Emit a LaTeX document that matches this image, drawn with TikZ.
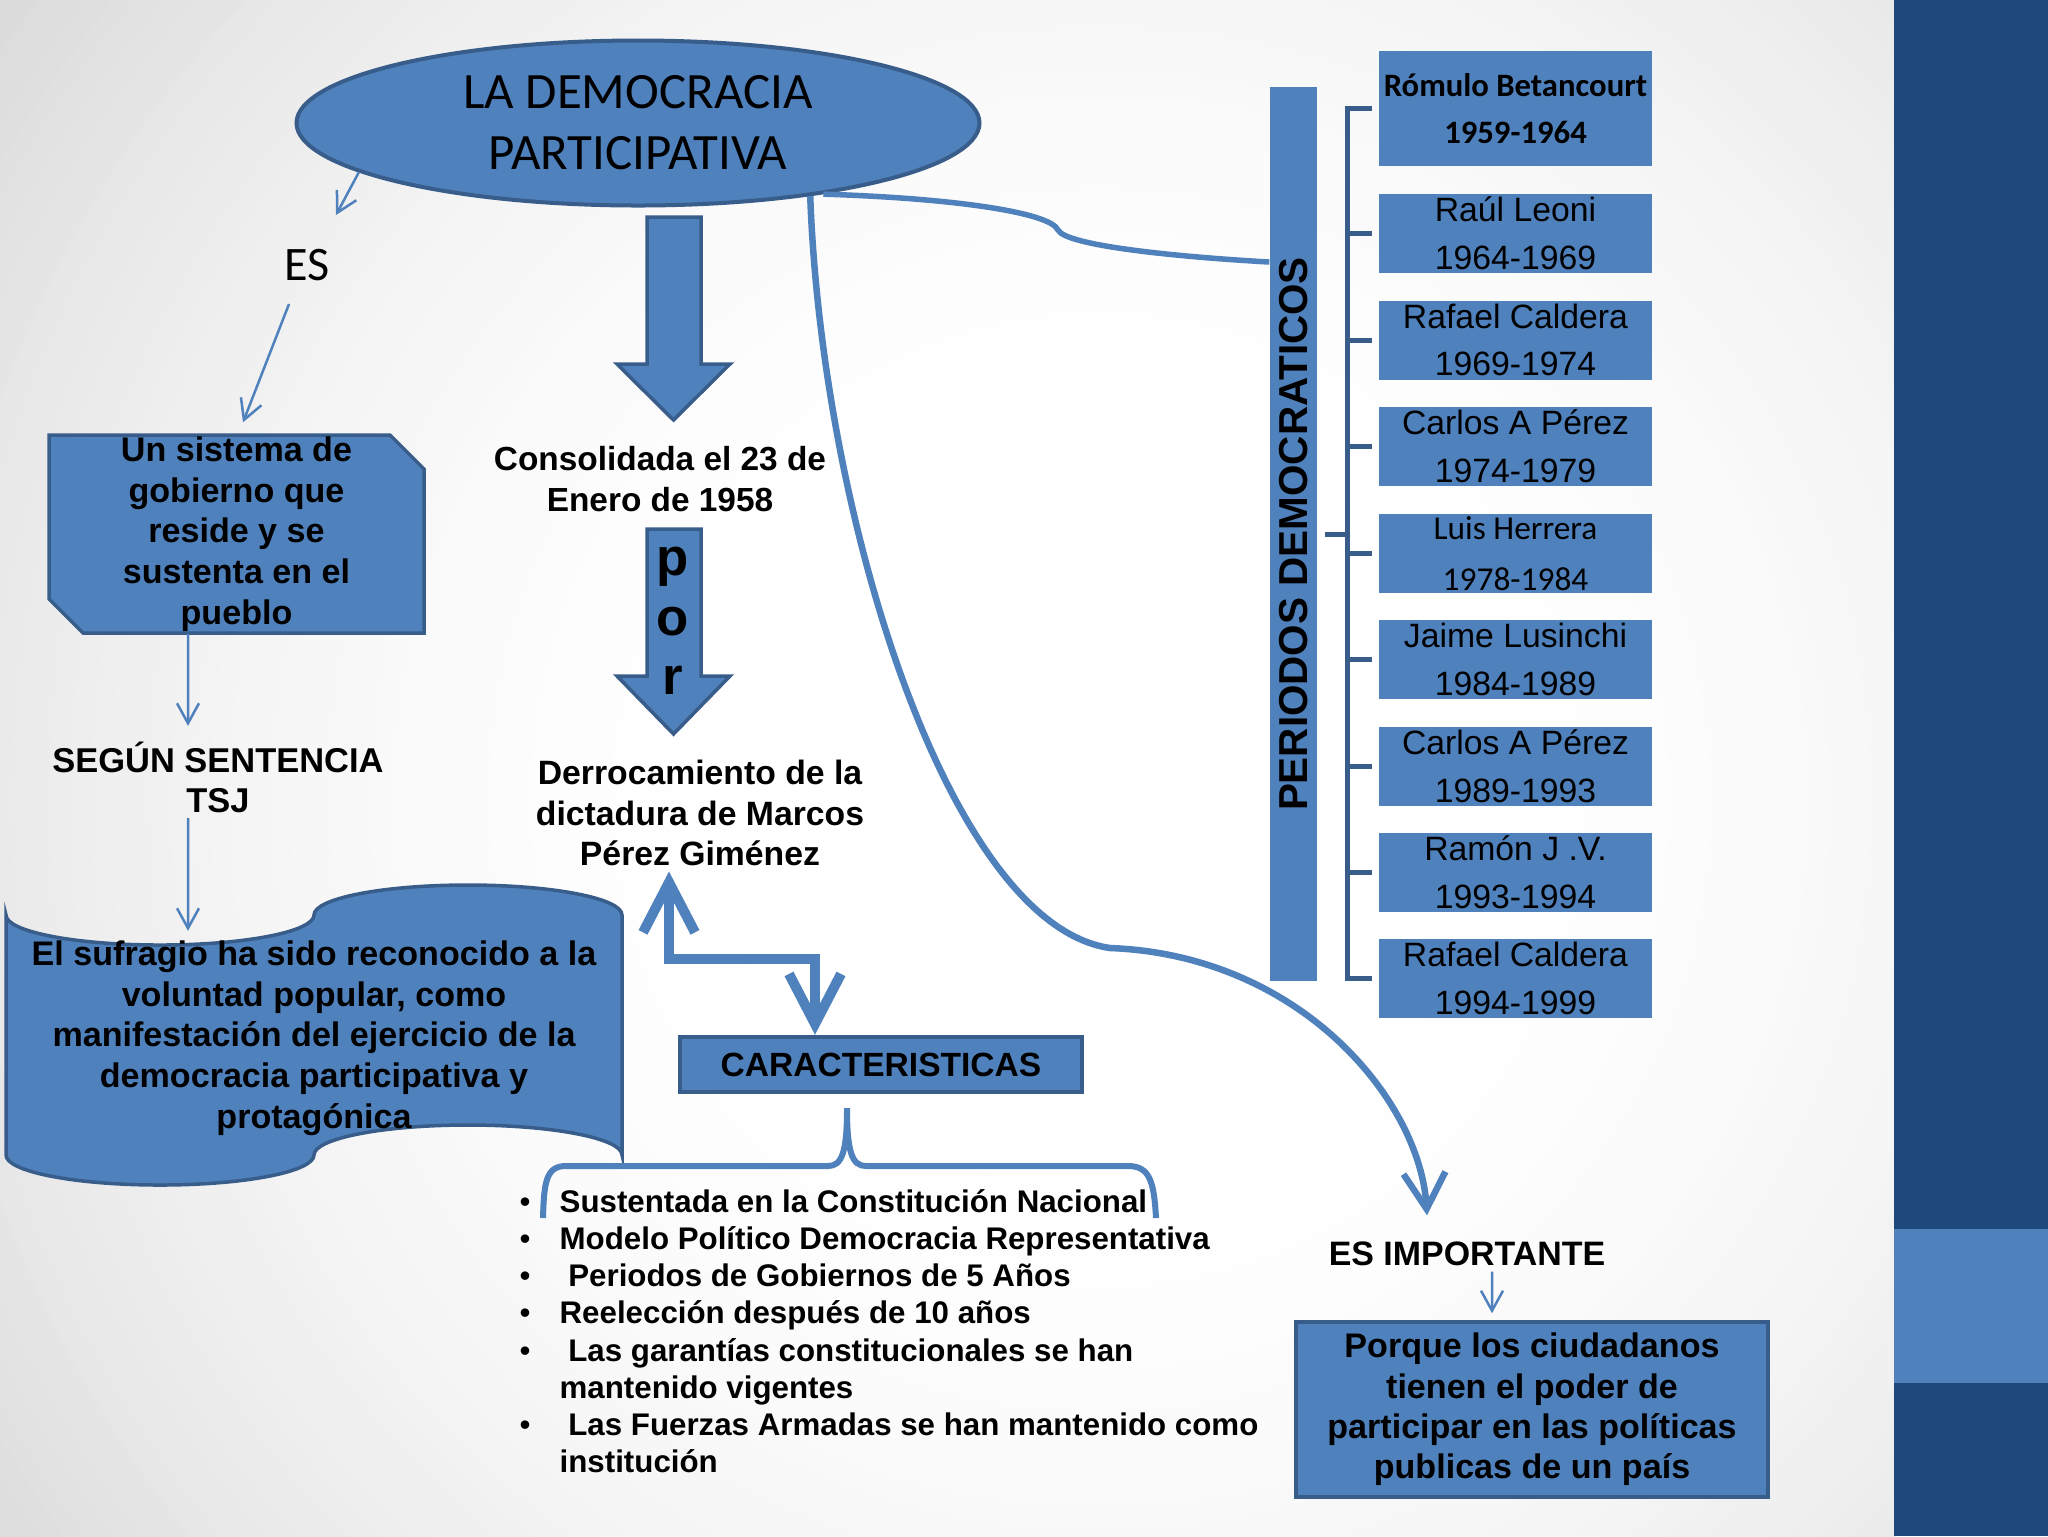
\documentclass[tikz,border=0pt]{standalone}
\usepackage{fontspec}
\setmainfont{Liberation Sans}
\newfontfamily\calibri{Carlito}
\usetikzlibrary{shapes.geometric,arrows.meta}
\definecolor{ofblue}{HTML}{4F81BD}
\definecolor{ofline}{HTML}{385D8A}
\definecolor{ofdark}{HTML}{1F497D}
\newcommand{\fsz}[2]{\fontsize{#1}{#2}\selectfont}
\newcommand{\bfsz}[2]{\bfseries\fontsize{#1}{#2}\selectfont}
\begin{document}
\begin{tikzpicture}[x=0.1mm,y=-0.1mm]
        \tikzstyle{every node}=[inner sep=0.5mm, text=black]
        \tikzstyle{bluebox}=[fill=ofblue, draw=ofline, line width=0.35mm]
        \tikzstyle{boldtext}=[align=center]
        \tikzstyle{perbox}=[fill=ofblue, minimum width=27.3mm, minimum height=7.9mm, inner sep=0, align=center, font=\fsz{9.6}{13.6}]
        \tikzstyle{thinarrow}=[ofblue, line width=0.25mm, -{Straight Barb[length=2mm,width=2.2mm]}]
        \tikzstyle{fatarrow}=[ofblue, line width=0.65mm]
        \tikzstyle{brack}=[ofline, line width=0.5mm]
        \useasboundingbox (0,0) rectangle (2048,1536);
        \fill[black!14] (0,0) rectangle (1894,1536);
        \begin{scope}
        \clip (0,0) rectangle (1894,1536);
        \foreach \r [evaluate=\r as \g using {14*((\r-300)/1050)^2}] in {1350,1330,...,290} \fill[black!\g] (1100,800) circle (\r);
        \end{scope}
        \fill[ofdark] (1894,0) rectangle (2048,1536);
        \fill[ofblue] (1894,1229) rectangle (2048,1383);
        \node[ellipse, bluebox, line width=0.4mm, minimum width=68.3mm, minimum height=16.5mm, inner sep=0, align=center, font=\calibri\fsz{14.5}{17.3}] (demo) at (638,123) {LA DEMOCRACIA\\PARTICIPATIVA};
        \node[font=\calibri\fsz{13.7}{16}] (es) at (307,265) {ES};
        \draw[thinarrow] (demo.190) -- ([shift={(2.9mm,2.85mm)}]es.north);
        \draw[bluebox] (49,435) -- (390,435) -- (424,469) -- (424,633) -- (83,633) -- (49,599) -- cycle;
        \node[boldtext, minimum width=37.5mm, minimum height=19.8mm, inner sep=0, font=\bfsz{9.7}{11.6}] (sis) at (236.5,534) {Un sistema de\\gobierno que\\reside y se\\sustenta en el\\pueblo};
        \draw[thinarrow] ([shift={(-1.8mm,-1.75mm)}]es.south) -- ([shift={(0.65mm,1.2mm)}]sis.north);
        \node[boldtext, font=\bfsz{9.8}{11.4}] (tsj) at (218,777) {SEGÚN SENTENCIA\\TSJ};
        \draw[thinarrow] ([xshift=-4.85mm]sis.south) -- ([shift={(-3mm,1mm)}]tsj.north);
        \draw[bluebox] (6,915) arc[start angle=180, end angle=0, x radius=154, y radius=30] arc[start angle=180, end angle=360, x radius=154, y radius=30] -- (622,1155) arc[start angle=0, end angle=-180, x radius=154, y radius=30] arc[start angle=0, end angle=180, x radius=154, y radius=30] -- cycle;
        \node[boldtext, font=\bfsz{9.7}{11.6}] (suf) at (314,1038) {El sufragio ha sido reconocido a la\\voluntad popular, como\\manifestación del ejercicio de la\\democracia participativa y\\protagónica};
        \draw[thinarrow] ([xshift=-3mm]tsj.south) -- ([shift={(-12.6mm,0.4mm)}]suf.north);
        \draw[bluebox] (647,217) -- (701,217) -- (701,364) -- (730,364) -- (673.5,420) -- (617,364) -- (647,364) -- cycle;
        \node[boldtext, font=\bfsz{9.5}{11.9}] (cons) at (660,479) {Consolidada el 23 de\\Enero de 1958};
        \draw[bluebox] (647,529) -- (701,529) -- (701,676) -- (730,676) -- (673.5,734) -- (617,676) -- (647,676) -- cycle;
        \node[boldtext, font=\bfsz{15}{17}] (por) at (673,621) {p\\o\\r};
        \node[boldtext, font=\bfsz{9.6}{11.5}] (derro) at (700,813) {Derrocamiento de la\\dictadura de Marcos\\Pérez Giménez};
        \node[bluebox, line width=0.45mm, minimum width=40.2mm, minimum height=5.5mm, inner sep=0, font=\bfsz{9.55}{11}] (cara) at (881,1064.5) {CARACTERISTICAS};
        \draw[fatarrow, line width=1mm, {Straight Barb[length=5mm,width=5.2mm]}-{Straight Barb[length=5mm,width=5.2mm]}] ([xshift=-3.1mm]derro.south) -- ++(0,87) -| ([xshift=-6.6mm]cara.north);
        \draw[ofblue, line width=0.6mm] (543,1218) .. controls (544,1182) and (546,1166) .. (566,1166) -- (828,1166) .. controls (842,1166) and (847,1152) .. (847,1108) .. controls (847,1152) and (852,1166) .. (866,1166) -- (1128,1166) .. controls (1150,1166) and (1154,1182) .. (1156,1218);
        \node[anchor=base west, inner sep=0, font=\bfsz{8.9}{10.6}] (lista) at (519,1212) {\begin{tabular}[t]{@{}l@{\hspace{2.9mm}}l@{}}
                \textmd{\textbullet} & Sustentada en la Constitución Nacional\\
                \textmd{\textbullet} & Modelo Político Democracia Representativa\\
                \textmd{\textbullet} & \ Periodos de Gobiernos de 5 Años\\
                \textmd{\textbullet} & Reelección después de 10 años\\
                \textmd{\textbullet} & \ Las garantías constitucionales se han\\
                & mantenido vigentes\\
                \textmd{\textbullet} & \ Las Fuerzas Armadas se han mantenido como\\
                & institución
            \end{tabular}};
        \node[fill=ofblue, minimum width=4.7mm, minimum height=89.4mm, inner sep=0, font=\bfsz{11.5}{13}] (bar) at (1293.5,534) {\rotatebox{90}{PERIODOS DEMOCRATICOS}};
        \node[perbox, minimum height=11.5mm, font=\calibri\bfseries\fsz{9.3}{13.3}] (p1) at (1515.5,108.5) {Rómulo Betancourt\\1959-1964};
        \node[perbox] (p2) at (1515.5,233.5) {Raúl Leoni\\1964-1969};
        \node[perbox] (p3) at (1515.5,340) {Rafael Caldera\\1969-1974};
        \node[perbox] (p4) at (1515.5,446) {Carlos A Pérez\\1974-1979};
        \node[perbox, font=\calibri\fsz{9.5}{14.7}] (p5) at (1515.5,553.5) {Luis Herrera\\1978-1984};
        \node[perbox] (p6) at (1515.5,659.5) {Jaime Lusinchi\\1984-1989};
        \node[perbox] (p7) at (1515.5,766) {Carlos A Pérez\\1989-1993};
        \node[perbox] (p8) at (1515.5,872.5) {Ramón J .V.\\1993-1994};
        \node[perbox] (p9) at (1515.5,978.5) {Rafael Caldera\\1994-1999};
        \coordinate (brk) at (1347,534);
        \draw[brack] ([xshift=0.7mm]bar.east) -- (brk);
        \foreach \i in {1,...,9} \draw[brack] ([xshift=-0.6mm]p\i.west) -| (brk);
        \node[font=\bfsz{9.65}{11}] (esimp) at (1467,1254) {ES IMPORTANTE};
        \node[bluebox, minimum width=47.2mm, minimum height=17.5mm, inner sep=0, align=center, font=\bfsz{9.7}{11.5}] (porq) at (1532,1409.5) {Porque los ciudadanos\\tienen el poder de\\participar en las políticas\\publicas de un país};
        \draw[thinarrow] ([xshift=2.5mm]esimp.south) -- ([shift={(-4mm,0.7mm)}]porq.north);
        \draw[fatarrow, -{Straight Barb[length=3.6mm,width=4.2mm]}] (demo.-23) .. controls (822,520) and (950,925) .. (1110,948) .. controls (1300,955) and (1420,1100) .. ([shift={(-4mm,2.1mm)}]esimp.north);
        \draw[fatarrow, line width=0.55mm] (demo.-21) .. controls (950,198) and (1050,212) .. (1058,230) .. controls (1066,246) and (1180,257) .. ([yshift=27.2mm]bar.west);
    \end{tikzpicture}
\end{document}
